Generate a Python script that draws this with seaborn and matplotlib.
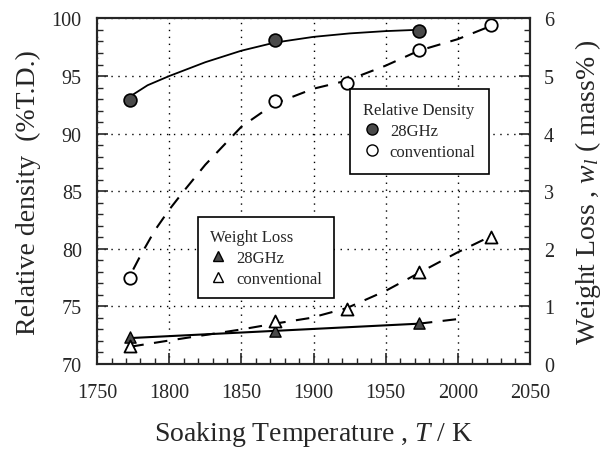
import numpy as np
import pandas as pd
import matplotlib
matplotlib.use("Agg")
import matplotlib.pyplot as plt
import seaborn as sns
from matplotlib.ticker import MultipleLocator
from matplotlib.lines import Line2D

# ---- data ----
temps_pts = [1773, 1873, 1973]
rd_28ghz = [92.9, 98.1, 98.9]
temps_conv = [1773, 1873, 1923, 1973, 2023]
rd_conv = [77.5, 92.8, 94.4, 97.3, 99.4]
wl_28ghz = [0.46, 0.58, 0.72]
wl_conv = [0.32, 0.75, 0.95, 1.59, 2.20]

# fitted curves
rd28_curve_t = [1775, 1785, 1800, 1825, 1850, 1873, 1900, 1925, 1950, 1970]
rd28_curve_v = [93.4, 94.2, 95.0, 96.2, 97.2, 97.9, 98.4, 98.7, 98.9, 99.0]
rdc_curve_t = [1775, 1780, 1790, 1800, 1810, 1825, 1850, 1873, 1900, 1923, 1950, 1973, 2000, 2020]
rdc_curve_v = [78.2, 79.4, 81.6, 83.4, 85.0, 87.3, 90.6, 92.6, 93.9, 94.6, 95.9, 97.2, 98.2, 99.2]
wl28_curve_t = [1773, 1973]
wl28_curve_v = [0.45, 0.70]
wl28_ext_t = [1973, 2000]
wl28_ext_v = [0.70, 0.78]
wlc_curve_t = [1773, 1798, 1850, 1873, 1898, 1923, 1950, 1973, 2000, 2023]
wlc_curve_v = [0.30, 0.40, 0.60, 0.70, 0.80, 0.97, 1.27, 1.58, 1.94, 2.22]

x_ticks = [1750, 1800, 1850, 1900, 1950, 2000, 2050]
y_ticks = [70, 75, 80, 85, 90, 95, 100]
y2_ticks = [0, 1, 2, 3, 4, 5, 6]

sns.set_style("ticks")
plt.rcParams["font.family"] = ["Liberation Serif", "DejaVu Serif"]
plt.rcParams["mathtext.fontset"] = "custom"
plt.rcParams["mathtext.rm"] = "Liberation Serif"
plt.rcParams["mathtext.it"] = "Liberation Serif:italic"

fig = plt.figure(figsize=(6.07, 4.52), dpi=100)
ax = fig.add_axes([0.160, 0.1925, 0.713, 0.7645])
ax2 = ax.twinx()

lw = 1.5
dash = (0, (6.5, 5))
gray = "#4a4a4a"
# curves
sns.lineplot(x=rd28_curve_t, y=rd28_curve_v, ax=ax, color="black", lw=1.3, sort=False)
sns.lineplot(x=rdc_curve_t, y=rdc_curve_v, ax=ax, color="black", lw=lw, sort=False)
sns.lineplot(x=wl28_curve_t, y=wl28_curve_v, ax=ax2, color="black", lw=lw, sort=False)
sns.lineplot(x=wl28_ext_t, y=wl28_ext_v, ax=ax2, color="black", lw=lw, sort=False)
sns.lineplot(x=wlc_curve_t, y=wlc_curve_v, ax=ax2, color="black", lw=lw, sort=False)
ax.lines[1].set_linestyle(dash)
ax2.lines[1].set_linestyle(dash)
ax2.lines[2].set_linestyle(dash)

# markers
sns.scatterplot(x=temps_pts, y=rd_28ghz, ax=ax, marker="o", s=85, color=gray,
                edgecolor="black", linewidth=1.2, zorder=5)
sns.scatterplot(x=temps_conv, y=rd_conv, ax=ax, marker="o", s=80, color="white",
                edgecolor="black", linewidth=1.3, zorder=5)
sns.scatterplot(x=temps_pts, y=wl_28ghz, ax=ax2, marker="^", s=65, color=gray,
                edgecolor="black", linewidth=1.0, zorder=5)
sns.scatterplot(x=temps_conv, y=wl_conv, ax=ax2, marker="^", s=75, color="white",
                edgecolor="black", linewidth=1.3, zorder=5)

ax.set_xlim(1750, 2050)
ax.set_ylim(70, 100)
ax2.set_ylim(0, 6)
ax.set_xticks(x_ticks)
ax.set_yticks(y_ticks)
ax2.set_yticks(y2_ticks)
ax.xaxis.set_minor_locator(MultipleLocator(10))
ax.yaxis.set_minor_locator(MultipleLocator(1))
ax2.yaxis.set_minor_locator(MultipleLocator(0.2))

for a in (ax, ax2):
    a.tick_params(which="major", direction="in", length=8, width=1.2, labelsize=14.5)
    a.tick_params(which="minor", direction="in", length=4, width=1.0)
    for s in a.spines.values():
        s.set_linewidth(1.5)
ax.tick_params(top=False, which="both")
ax.tick_params(axis="x", pad=14)
ax.tick_params(axis="y", pad=11)
ax2.tick_params(axis="y", pad=10)

ax.grid(True, which="major", linestyle=(0, (1, 4)), color="black", lw=1.0)

ax.set_xlabel("Soaking Temperature , $\\mathit{T}$ / K", fontsize=20, labelpad=12)
ax.set_ylabel("Relative density  (%T.D.)", fontsize=20, labelpad=8)
ax2.set_ylabel("Weight Loss , $\\mathit{w}_{\\mathit{l}}$ ( mass% )", fontsize=20, labelpad=14)

# legends
h_rd = [Line2D([], [], marker="o", ls="none", color=gray, mec="black", ms=8),
        Line2D([], [], marker="o", ls="none", color="white", mec="black", ms=8)]
leg1 = ax2.legend(h_rd, ["28GHz", "conventional"], title="Relative Density",
                  loc="upper left", bbox_to_anchor=(0.584, 0.796),
                  frameon=True, fancybox=False, edgecolor="black", framealpha=1,
                  fontsize=12, title_fontsize=12, handletextpad=0.6, handlelength=1.0,
                  borderpad=0.8, labelspacing=0.3, borderaxespad=0)
leg1._legend_box.align = "left"
leg1.get_frame().set_linewidth(1.2)

h_wl = [Line2D([], [], marker="^", ls="none", color=gray, mec="black", ms=7),
        Line2D([], [], marker="^", ls="none", color="white", mec="black", ms=7)]
leg2 = ax2.legend(h_wl, ["28GHz", "conventional"], title="Weight Loss",
                  loc="upper left", bbox_to_anchor=(0.233, 0.425),
                  frameon=True, fancybox=False, edgecolor="black", framealpha=1,
                  fontsize=12, title_fontsize=12, handletextpad=0.6, handlelength=1.0,
                  borderpad=0.7, labelspacing=0.3, borderaxespad=0)
leg2._legend_box.align = "left"
leg2.get_frame().set_linewidth(1.2)
ax2.add_artist(leg1)

fig.savefig("out.png", dpi=100)
